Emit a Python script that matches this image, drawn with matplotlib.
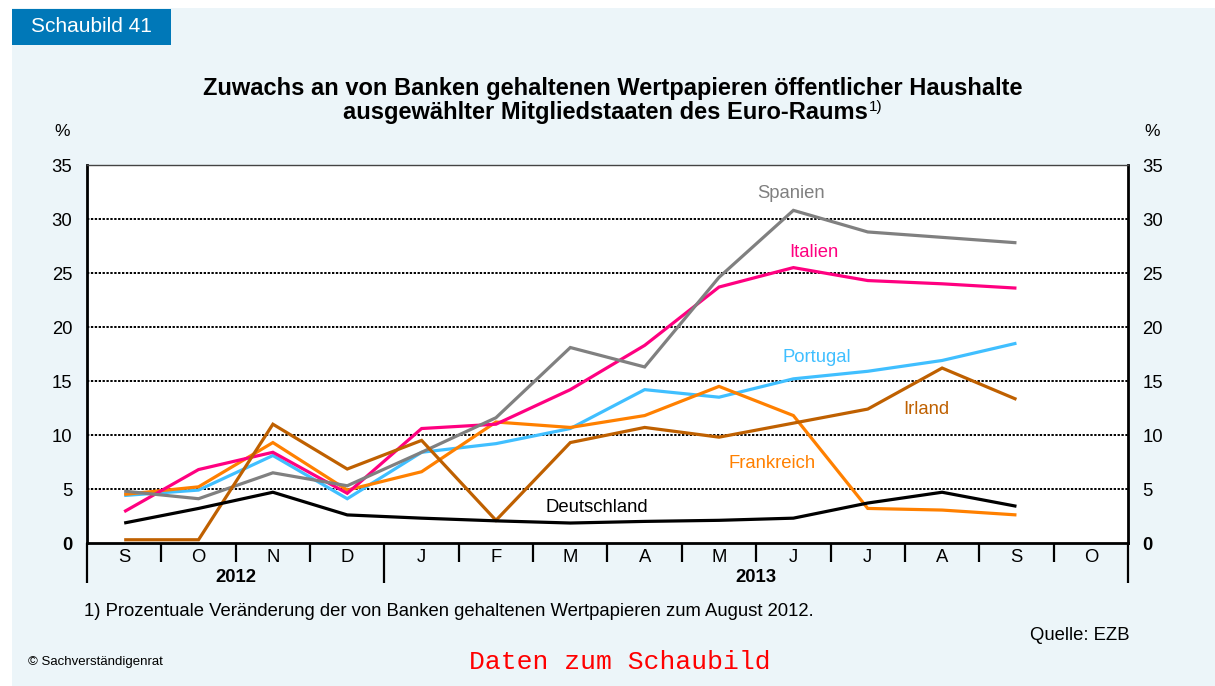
import matplotlib
matplotlib.use("Agg")
import matplotlib.pyplot as plt
from matplotlib.patches import Rectangle
from matplotlib.transforms import blended_transform_factory

plt.rcParams['font.family'] = ['Liberation Sans', 'DejaVu Sans']

# ---- data -----------------------------------------------------------------
months = ["S", "O", "N", "D", "J", "F", "M", "A", "M", "J", "J", "A", "S", "O"]
years = ["2012", "2013"]
year_spans = [(0, 4), (4, 14)]          # month index ranges belonging to each year

spanien     = [4.8, 4.1, 6.5, 5.3, 8.4, 11.6, 18.1, 16.3, 24.6, 30.8, 28.8, 28.3, 27.8]
italien     = [2.9, 6.8, 8.4, 4.6, 10.6, 11.0, 14.2, 18.3, 23.7, 25.5, 24.3, 24.0, 23.6]
portugal    = [4.4, 4.9, 8.1, 4.1, 8.4, 9.2, 10.6, 14.2, 13.5, 15.2, 15.9, 16.9, 18.5]
irland      = [0.3, 0.3, 11.0, 6.85, 9.5, 2.1, 9.3, 10.7, 9.8, 11.1, 12.4, 16.2, 13.3]
frankreich  = [4.5, 5.2, 9.3, 4.9, 6.6, 11.2, 10.7, 11.8, 14.5, 11.8, 3.2, 3.05, 2.6]
deutschland = [1.85, 3.2, 4.7, 2.6, 2.3, 2.05, 1.85, 2.0, 2.1, 2.3, 3.7, 4.7, 3.4]

y_ticks = [0, 5, 10, 15, 20, 25, 30, 35]

# ---- figure ---------------------------------------------------------------
W, H = 1215, 686
fig = plt.figure(figsize=(W / 100, H / 100), dpi=100, facecolor="white")

bg = "#ECF5F9"
fig.add_artist(Rectangle((12 / W, 0), 1 - 12 / W, 1 - 8 / H,
                         transform=fig.transFigure, facecolor=bg,
                         edgecolor="none", zorder=-10))
fig.add_artist(Rectangle((12 / W, 1 - 45 / H), (171 - 12) / W, 36 / H,
                         transform=fig.transFigure, facecolor="#0078B8",
                         edgecolor="none", zorder=-5))
fig.text(91 / W, 1 - 27 / H, "Schaubild 41", color="white", fontsize=15,
         ha="center", va="center")

left, right, top, bottom = 87, 1128, 165, 543
ax = fig.add_axes([left / W, 1 - bottom / H, (right - left) / W, (bottom - top) / H])
ax.set_zorder(1)
ax.set_facecolor("white")
ax.set_xlim(-0.5, len(months) - 0.5)
ax.set_ylim(0, 35)

FS = 13.3

# dotted horizontal grid
for v in y_ticks[1:]:
    ax.axhline(v, color="black", lw=1.4, ls=(0, (1.2, 0.8)), zorder=1)

x = list(range(len(spanien)))
series = [
    (portugal, "#40BFFF"),
    (frankreich, "#FF8000"),
    (italien, "#FF0080"),
    (spanien, "#808080"),
    (irland, "#BF6000"),
    (deutschland, "#000000"),
]
for vals, col in series:
    ax.plot(x, vals, color=col, lw=2.3, solid_capstyle="butt",
            solid_joinstyle="miter", zorder=3)

labels = [
    ("Spanien", 8.97, 32.4, "#808080"),
    ("Italien", 9.27, 26.9, "#FF0080"),
    ("Portugal", 9.31, 17.2, "#40BFFF"),
    ("Irland", 10.79, 12.4, "#BF6000"),
    ("Frankreich", 8.71, 7.4, "#FF8000"),
    ("Deutschland", 6.35, 3.33, "#000000"),
]
for txt, lx, ly, col in labels:
    ax.text(lx, ly, txt, color=col, fontsize=FS, ha="center", va="center", zorder=4)

# spines
for s in ("left", "right", "bottom"):
    ax.spines[s].set_linewidth(2)
    ax.spines[s].set_color("black")
ax.spines["top"].set_linewidth(1)
ax.spines["top"].set_color("#444444")

# y axis labels on both sides
ax.set_yticks(y_ticks)
ax.set_yticklabels([str(v) for v in y_ticks])
ax.tick_params(axis="y", length=0, labelsize=FS, pad=10.5,
               left=True, right=True, labelleft=True, labelright=True)
zero_tick = ax.yaxis.get_major_ticks()[0]
zero_tick.label1.set_fontweight("bold")
zero_tick.label2.set_fontweight("bold")
ax.set_xticks([])

fig.text(62 / W, 1 - 131 / H, "%", fontsize=12.5, ha="center", va="center")
fig.text(1152 / W, 1 - 131 / H, "%", fontsize=12.5, ha="center", va="center")

# category axis: month labels, separators and years
trans = blended_transform_factory(ax.transData, ax.transAxes)
ph = bottom - top
short = -19 / ph
long_ = -40 / ph
for i, m in enumerate(months):
    ax.text(i, -15 / ph, m, transform=trans, ha="center", va="center",
            fontsize=FS, clip_on=False)
year_edges = {s for s, e in year_spans} | {e for s, e in year_spans}
for b in range(len(months) + 1):
    xb = b - 0.5
    depth = long_ if b in year_edges else short
    ax.plot([xb, xb], [0, depth], transform=trans, color="black", lw=1.6,
            clip_on=False, solid_capstyle="butt")
for yr, (s, e) in zip(years, year_spans):
    ax.text((s + e - 1) / 2, -35 / ph, yr, transform=trans, ha="center",
            va="center", fontsize=FS, fontweight="bold", clip_on=False)

# title
fig.text(613 / W, 1 - 89 / H,
         "Zuwachs an von Banken gehaltenen Wertpapieren öffentlicher Haushalte",
         fontsize=17, fontweight="bold", ha="center", va="center")
fig.text(868 / W, 1 - 112 / H, "ausgewählter Mitgliedstaaten des Euro-Raums",
         fontsize=17, fontweight="bold", ha="right", va="center")
fig.text(869 / W, 1 - 107 / H, "1)", fontsize=11, ha="left", va="center")

# footer
fig.text(84 / W, 1 - 611 / H,
         "1) Prozentuale Veränderung der von Banken gehaltenen Wertpapieren zum August 2012.",
         fontsize=FS, ha="left", va="center")
fig.text(1130 / W, 1 - 635 / H, "Quelle: EZB", fontsize=FS, ha="right", va="center")
fig.text(28 / W, 1 - 662 / H, "© Sachverständigenrat", fontsize=9.5, ha="left",
         va="center", family=["Liberation Sans Narrow", "Liberation Sans"])
fig.text(620 / W, 1 - 662 / H, "Daten zum Schaubild", fontsize=19, color="#FF0000",
         family="Liberation Mono", ha="center", va="center")

fig.savefig("out.png", dpi=100, facecolor=fig.get_facecolor())
